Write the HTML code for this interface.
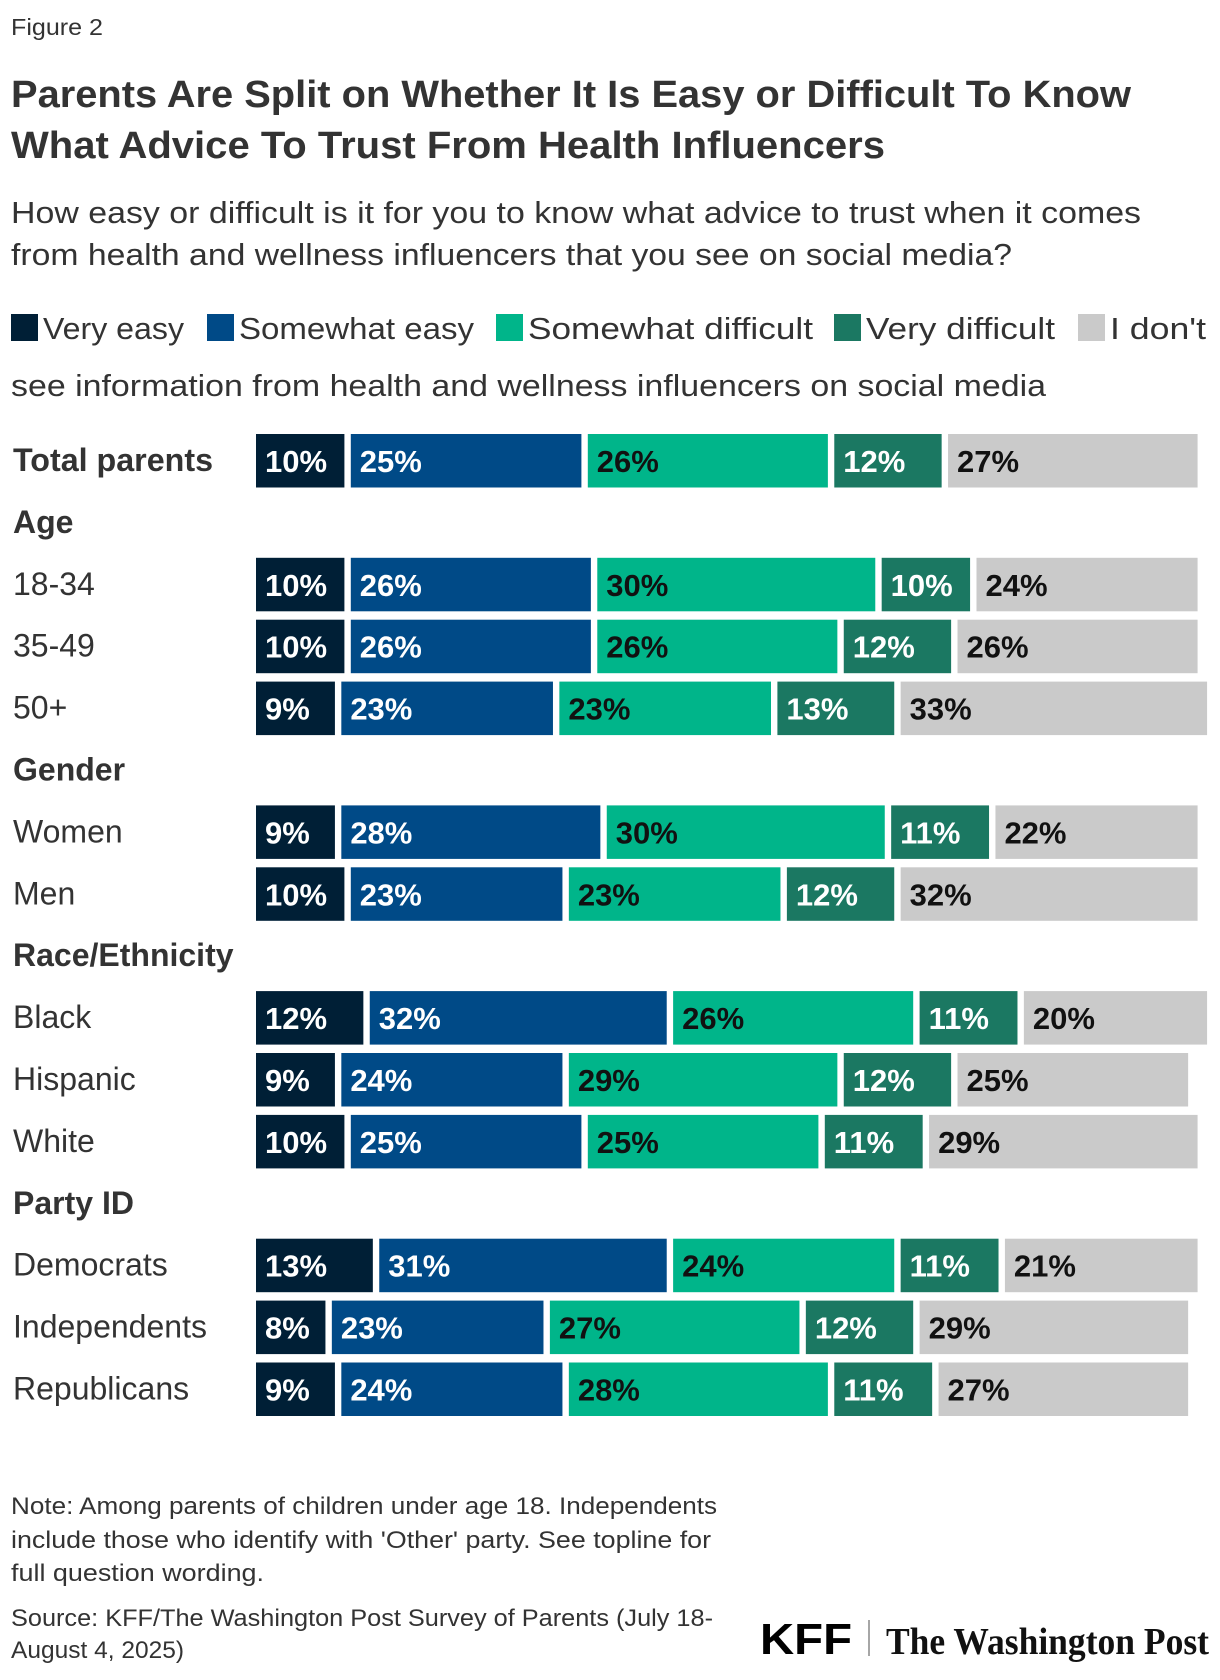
<!DOCTYPE html>
<html><head><meta charset="utf-8"><style>
html,body{margin:0;padding:0;background:#fff;}
svg{display:block;font-family:"Liberation Sans",sans-serif;}
</style></head><body>
<svg id="chart" width="1220" height="1680" viewBox="0 0 1220 1680">
<text x="11" y="35" font-size="23" fill="#333" textLength="92" lengthAdjust="spacingAndGlyphs">Figure 2</text>
<text x="11" y="107" font-size="38" font-weight="bold" fill="#333" textLength="1120" lengthAdjust="spacingAndGlyphs">Parents Are Split on Whether It Is Easy or Difficult To Know</text>
<text x="11" y="158" font-size="38" font-weight="bold" fill="#333" textLength="874" lengthAdjust="spacingAndGlyphs">What Advice To Trust From Health Influencers</text>
<text x="11" y="223" font-size="31" fill="#333" textLength="1130" lengthAdjust="spacingAndGlyphs">How easy or difficult is it for you to know what advice to trust when it comes</text>
<text x="11" y="265" font-size="31" fill="#333" textLength="1001" lengthAdjust="spacingAndGlyphs">from health and wellness influencers that you see on social media?</text>
<g id="legend"></g>
<text x="11" y="396" font-size="31" fill="#333" textLength="1035" lengthAdjust="spacingAndGlyphs">see information from health and wellness influencers on social media</text>
<g id="bars"></g>
<g font-size="24" fill="#333">
<text x="11" y="1514" textLength="706" lengthAdjust="spacingAndGlyphs">Note: Among parents of children under age 18. Independents</text>
<text x="11" y="1548" textLength="700" lengthAdjust="spacingAndGlyphs">include those who identify with 'Other' party. See topline for</text>
<text x="11" y="1581" textLength="253" lengthAdjust="spacingAndGlyphs">full question wording.</text>
<text x="11" y="1626" textLength="702" lengthAdjust="spacingAndGlyphs">Source: KFF/The Washington Post Survey of Parents (July 18-</text>
<text x="11" y="1658" textLength="173" lengthAdjust="spacingAndGlyphs">August 4, 2025)</text>
</g>
<text x="760" y="1654" font-size="44" font-weight="bold" fill="#000" textLength="92" lengthAdjust="spacingAndGlyphs">KFF</text>
<line x1="869" y1="1620" x2="869" y2="1656" stroke="#888" stroke-width="1.5"/>
<text x="886" y="1654" font-size="38" font-weight="bold" fill="#111" font-family="Liberation Serif, serif" textLength="323" lengthAdjust="spacingAndGlyphs">The Washington Post</text>
</svg>
<script>
const categories = ["Total parents","18-34","35-49","50+","Women","Men","Black","Hispanic","White","Democrats","Independents","Republicans"];
const veryEasy = [10,10,10,9,9,10,12,9,10,13,8,9];
const somewhatEasy = [25,26,26,23,28,23,32,24,25,31,23,24];
const somewhatDifficult = [26,30,26,23,30,23,26,29,25,24,27,28];
const veryDifficult = [12,10,12,13,11,12,11,12,11,11,12,11];
const dontSee = [27,24,26,33,22,32,20,25,29,21,29,27];
const seriesNames = ["Very easy","Somewhat easy","Somewhat difficult","Very difficult","I don't"];
const groupHeaders = ["Age","Gender","Race/Ethnicity","Party ID"];

const NS = "http://www.w3.org/2000/svg";
const colors = ["#001f36","#004a87","#00b58a","#1b7862","#cacaca"];
const textColors = ["#fff","#fff","#111","#fff","#111"];
const series = [veryEasy, somewhatEasy, somewhatDifficult, veryDifficult, dontSee];
const x0 = 256, pxPer = 9.48, gap = 6.4, barH = 53.5, step = 61.9, topY = 434;
const rowSlots = [0,2,3,4,6,7,9,10,11,13,14,15];
const headerSlots = [1,5,8,12];
function xScale(v){ return x0 + v * pxPer; }
function yScale(slot){ return topY + slot * step; }

function mk(tag, attrs){ const e = document.createElementNS(NS, tag); for (const k in attrs) e.setAttribute(k, attrs[k]); return e; }
const bars = document.getElementById('bars');
const legend = document.getElementById('legend');

const legX = [11,207,496,834,1078];
const legW = [141,235,285,189,96];
seriesNames.forEach((n,i)=>{
  const r = mk('rect',{x:legX[i],y:314,width:27,height:27,fill:colors[i]});
  
  
  legend.appendChild(r);
  const t = mk('text',{x:legX[i]+32,y:339,'font-size':31,fill:'#333',textLength:legW[i],lengthAdjust:'spacingAndGlyphs'});
  
  
  t.textContent = n;
  legend.appendChild(t);
});

groupHeaders.forEach((h,i)=>{
  const t = mk('text',{x:13,y:yScale(headerSlots[i])+37,'font-size':32,'font-weight':'bold',fill:'#333'});
  
  
  t.textContent = h;
  bars.appendChild(t);
});

categories.forEach((c,r)=>{
  const y = yScale(rowSlots[r]);
  const lab = mk('text',{x:13,y:y+37,'font-size':32,fill:'#333'});
  if (r===0){ lab.setAttribute('font-weight','bold'); lab.setAttribute('textLength','200'); lab.setAttribute('lengthAdjust','spacingAndGlyphs'); }
  
  
  lab.textContent = c;
  bars.appendChild(lab);
  let cum = 0;
  series.forEach((s,i)=>{
    const v = s[r];
    const xa = xScale(cum), xb = xScale(cum+v);
    const rect = mk('rect',{x:xa,y:y,width:Math.max(0,xb-xa-gap),height:barH,fill:colors[i]});
    
    
    bars.appendChild(rect);
    const t = mk('text',{x:xa+9,y:y+38,'font-size':31,'font-weight':'bold',fill:textColors[i]});
    
    
    t.textContent = v + '%';
    bars.appendChild(t);
    cum += v;
  });
});
</script>
</body></html>
